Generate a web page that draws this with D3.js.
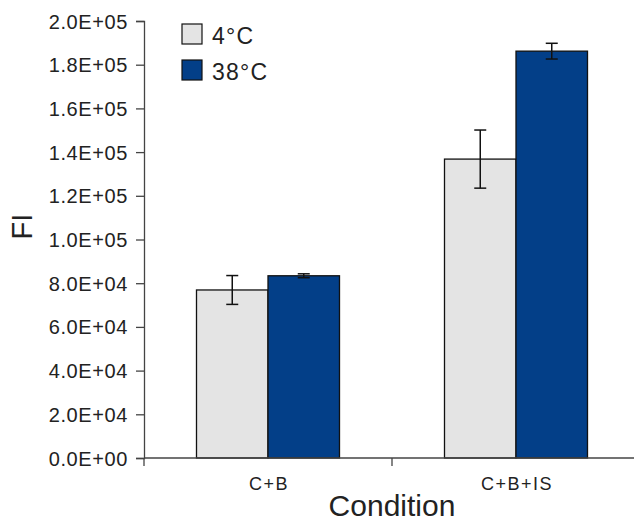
<!DOCTYPE html>
<html>
<head>
<meta charset="utf-8">
<script src="https://cdn.jsdelivr.net/npm/d3@7"></script>
<style>
body { margin: 0; background: #fff; }
text { font-family: "Liberation Sans", Arial, sans-serif; fill: #222; }
</style>
</head>
<body>
<script>
var categories = ["C+B", "C+B+IS"];
var series = ["4°C", "38°C"];
var colors = ["#e4e4e4", "#033f88"];
var means4 = [76900, 136800];
var err4 = [6600, 13300];
var means38 = [83400, 186200];
var err38 = [900, 3600];
var yTicks = [0, 20000, 40000, 60000, 80000, 100000, 120000, 140000, 160000, 180000, 200000];

var margin = {top: 21, left: 144},
	width = 496,
	height = 437;

var data = [];
categories.forEach(function(c, i) {
	data.push({cat: c, s: series[0], v: means4[i], e: err4[i], col: colors[0]});
	data.push({cat: c, s: series[1], v: means38[i], e: err38[i], col: colors[1]});
});

var svg = d3.select("body").append("svg")
		.attr("width", 634)
		.attr("height", 523)
	.append("g")
		.attr("transform", "translate(" + margin.left + "," + margin.top + ")");

var x0 = d3.scaleBand()
	.domain(categories)
	.range([0, width]);

var groupW = 143;
var x1 = d3.scaleBand()
	.domain(series)
	.range([(x0.bandwidth() - groupW) / 2, (x0.bandwidth() + groupW) / 2]);

var y = d3.scaleLinear()
	.domain([0, 200000])
	.range([height, 0]);

// bars
svg.selectAll("rect.bar")
	.data(data)
	.enter().append("rect")
	.attr("class", "bar")
	.attr("x", d => x0(d.cat) + x1(d.s))
	.attr("y", d => y(d.v))
	.attr("width", x1.bandwidth())
	.attr("height", d => height - y(d.v))
	.attr("fill", d => d.col)
	.attr("stroke", "#111")
	.attr("stroke-width", 1.3);

// error bars
var eb = svg.selectAll("g.err")
	.data(data)
	.enter().append("g")
	.attr("class", "err")
	.attr("transform", d => "translate(" + (x0(d.cat) + x1(d.s) + x1.bandwidth() / 2) + ",0)");
eb.append("line")
	.attr("y1", d => y(d.v + d.e))
	.attr("y2", d => y(d.v - d.e))
	.attr("stroke", "#111").attr("stroke-width", 1.5);
eb.append("line")
	.attr("x1", -6).attr("x2", 6)
	.attr("y1", d => y(d.v + d.e)).attr("y2", d => y(d.v + d.e))
	.attr("stroke", "#111").attr("stroke-width", 1.5);
eb.append("line")
	.attr("x1", -6).attr("x2", 6)
	.attr("y1", d => y(d.v - d.e)).attr("y2", d => y(d.v - d.e))
	.attr("stroke", "#111").attr("stroke-width", 1.5);

// y axis
var yAxis = svg.append("g")
	.call(d3.axisLeft(y)
		.tickValues(yTicks)
		.tickSize(8)
		.tickPadding(8)
		.tickFormat(d => d3.format(".1e")(d).replace("e", "E").replace(/E([+-])(\d)$/, "E$10$2")));
yAxis.select(".domain").attr("stroke", "#444").attr("stroke-width", 1.3);
yAxis.selectAll(".tick line").attr("stroke", "#444").attr("stroke-width", 1.3);
yAxis.selectAll("text")
	.style("font-size", "20px")
	.style("letter-spacing", "0.6px")
	.attr("fill", "#222").attr("dy", "0.35em");

// x axis: ticks between categories
var xAxis = svg.append("g")
	.attr("transform", "translate(0," + height + ")");
xAxis.append("line")
	.attr("x1", 0).attr("x2", width)
	.attr("stroke", "#444").attr("stroke-width", 1.3);
xAxis.selectAll("line.tk")
	.data(categories.concat([null]))
	.enter().append("line")
	.attr("class", "tk")
	.attr("x1", (d, i) => i * x0.bandwidth())
	.attr("x2", (d, i) => i * x0.bandwidth())
	.attr("y1", 0).attr("y2", 8)
	.attr("stroke", "#444").attr("stroke-width", 1.3);
xAxis.selectAll("text.cat")
	.data(categories)
	.enter().append("text")
	.attr("class", "cat")
	.attr("x", d => x0(d) + x0.bandwidth() / 2 + 1)
	.attr("y", 32)
	.attr("text-anchor", "middle")
	.style("font-size", "18px")
	.style("letter-spacing", "1.5px")
	.text(d => d);

// axis titles
svg.append("text")
	.attr("x", 248)
	.attr("y", height + 58)
	.attr("text-anchor", "middle")
	.style("font-size", "30px")
	.text("Condition");
svg.append("text")
	.attr("transform", "translate(" + (-margin.left + 32) + "," + (height / 2 - 13) + ") rotate(-90)")
	.attr("text-anchor", "middle")
	.style("font-size", "29px")
	.text("FI");

// legend
var legend = svg.selectAll("g.leg")
	.data(series)
	.enter().append("g")
	.attr("class", "leg")
	.attr("transform", (d, i) => "translate(38," + (3 + i * 36) + ")");
legend.append("rect")
	.attr("width", 20).attr("height", 20)
	.attr("fill", (d, i) => colors[i])
	.attr("stroke", "#111").attr("stroke-width", 1.2);
legend.append("text")
	.attr("x", 30).attr("y", 20)
	.style("font-size", "23px")
	.style("letter-spacing", "1.2px")
	.text(d => d);
</script>
</body>
</html>
